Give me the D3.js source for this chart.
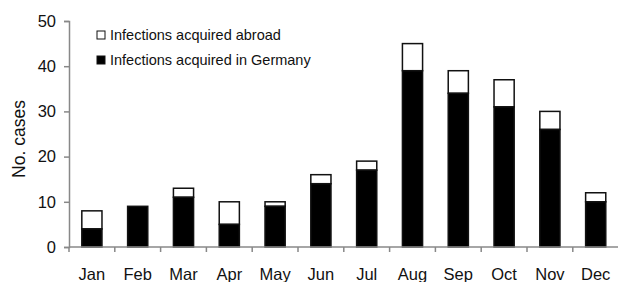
<!DOCTYPE html>
<html>
<head>
<meta charset="utf-8">
<script src="https://cdn.jsdelivr.net/npm/d3@7"></script>
<style>
  body { margin: 0; background: #fff; }
  svg { display: block; font-family: "Liberation Sans", Arial, sans-serif; }
</style>
</head>
<body>
<div id="chart"></div>
<script>
const months = ['Jan', 'Feb', 'Mar', 'Apr', 'May', 'Jun', 'Jul', 'Aug', 'Sep', 'Oct', 'Nov', 'Dec'];
const germany = [4, 9, 11, 5, 9, 14, 17, 39, 34, 31, 26, 10];
const abroad = [4, 0, 2, 5, 1, 2, 2, 6, 5, 6, 4, 2];
const yTicks = [0, 10, 20, 30, 40, 50];

const width = 618;
const height = 282;
const margin = { top: 21, right: 0, bottom: 35, left: 69 };

const svg = d3.select('#chart')
  .append('svg')
  .attr('width', width)
  .attr('height', height);

const x = d3.scaleBand()
  .domain(months)
  .range([margin.left, margin.left + 12 * 45.8])
  .paddingInner(0.56)
  .paddingOuter(0.28);

const y = d3.scaleLinear()
  .domain([0, 50])
  .range([height - margin.bottom, margin.top]);

const data = months.map((m, i) => ({ month: m, germany: germany[i], abroad: abroad[i] }));

// bars: abroad stacked on top of Germany
const bars = svg.append('g');
bars.selectAll('.abroad')
  .data(data)
  .enter()
  .append('rect')
  .attr('x', (d) => x(d.month))
  .attr('y', (d) => y(d.germany + d.abroad))
  .attr('width', x.bandwidth())
  .attr('height', (d) => y(d.germany) - y(d.germany + d.abroad))
  .attr('fill', '#fff')
  .attr('stroke', '#111')
  .attr('stroke-width', 1.5);

bars.selectAll('.germany')
  .data(data)
  .enter()
  .append('rect')
  .attr('x', (d) => x(d.month))
  .attr('y', (d) => y(d.germany))
  .attr('width', x.bandwidth())
  .attr('height', (d) => y(0) - y(d.germany))
  .attr('fill', '#000')
  .attr('stroke', '#111')
  .attr('stroke-width', 1.5);

// y axis
svg.append('g')
  .attr('transform', `translate(${margin.left},0)`)
  .call(d3.axisLeft(y).tickValues(yTicks).tickSize(5).tickPadding(8))
  .call((g) => g.select('.domain').attr('stroke', '#888').attr('stroke-width', 1.5))
  .call((g) => g.selectAll('.tick line').attr('stroke', '#888').attr('stroke-width', 1.5))
  .call((g) => g.selectAll('.tick text').attr('font-size', 16.5).attr('fill', '#111').attr('font-family', null));

// x axis with ticks between categories
const xAxis = svg.append('g')
  .attr('transform', `translate(0,${y(0)})`);
xAxis.append('line')
  .attr('x1', margin.left)
  .attr('x2', width)
  .attr('stroke', '#888')
  .attr('stroke-width', 1.5);
xAxis.selectAll('.sep')
  .data(months)
  .enter()
  .append('line')
  .attr('x1', (d) => x(d) - x.step() * x.paddingOuter())
  .attr('x2', (d) => x(d) - x.step() * x.paddingOuter())
  .attr('y1', 0)
  .attr('y2', 5)
  .attr('stroke', '#888')
  .attr('stroke-width', 1.5);
xAxis.selectAll('.lbl')
  .data(months)
  .enter()
  .append('text')
  .attr('x', (d) => x(d) + x.bandwidth() / 2)
  .attr('y', 33)
  .attr('text-anchor', 'middle')
  .attr('font-size', 16.5)
  .attr('fill', '#111')
  .text((d) => d);

// y axis title
svg.append('text')
  .attr('transform', `translate(25,${(y(0) + y(50)) / 2 + 5}) rotate(-90)`)
  .attr('text-anchor', 'middle')
  .attr('font-size', 17.5)
  .attr('fill', '#111')
  .text('No. cases');

// legend
const legend = [
  { label: 'Infections acquired abroad', fill: '#fff' },
  { label: 'Infections acquired in Germany', fill: '#000' },
];
const lg = svg.selectAll('.legend')
  .data(legend)
  .enter()
  .append('g')
  .attr('transform', (d, i) => `translate(97,${31 + i * 25})`);
lg.append('rect')
  .attr('width', 8)
  .attr('height', 8)
  .attr('fill', (d) => d.fill)
  .attr('stroke', '#111')
  .attr('stroke-width', 1);
lg.append('text')
  .attr('x', 13)
  .attr('y', 9)
  .attr('font-size', 14.5)
  .attr('fill', '#111')
  .text((d) => d.label);
</script>
</body>
</html>
